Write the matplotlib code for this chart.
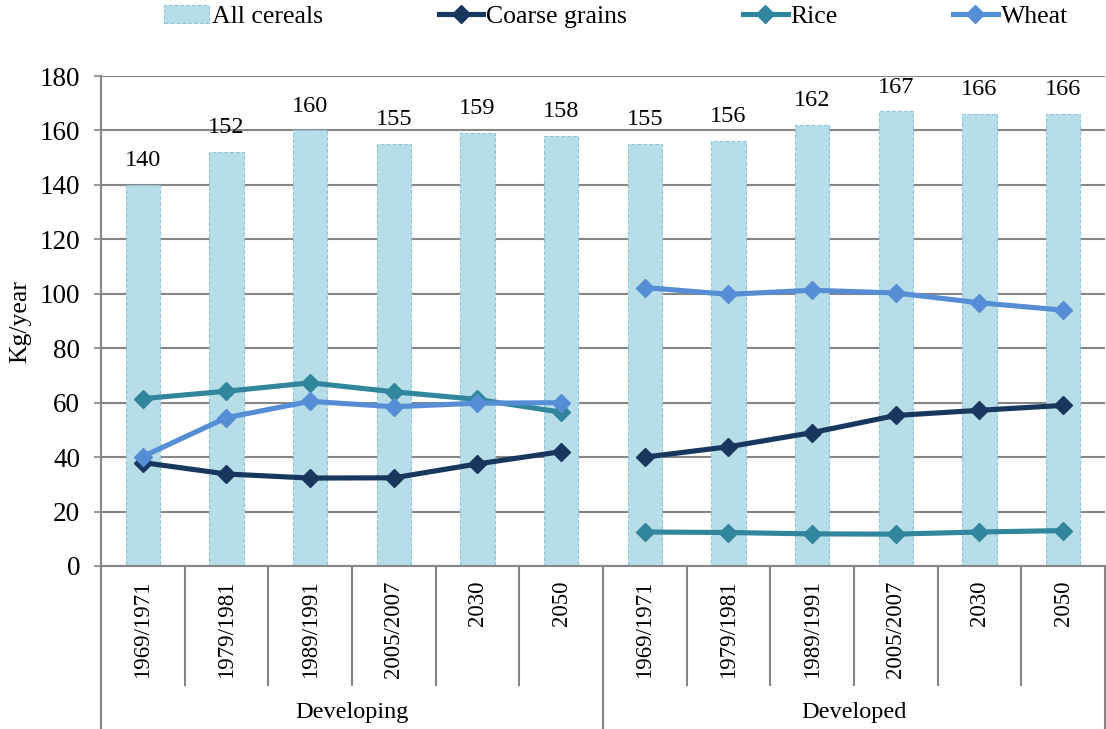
import matplotlib.pyplot as plt
import numpy as np

plt.rcParams['font.family'] = ['Liberation Serif', 'DejaVu Serif']

groups = ['Developing', 'Developed']
periods = ['1969/1971', '1979/1981', '1989/1991', '2005/2007', '2030', '2050']

all_cereals = [140, 152, 160, 155, 159, 158, 155, 156, 162, 167, 166, 166]
all_labels = ['140', '152', '160', '155', '159', '158', '155', '156', '162', '167', '166', '166']
coarse = [38, 33.8, 32.3, 32.4, 37.5, 42, 40, 43.8, 49, 55.3, 57.2, 59]
rice = [61.5, 64.2, 67.3, 64, 61.2, 56.5, 12.5, 12.3, 11.8, 11.7, 12.5, 13]
wheat = [40.2, 54.5, 60.5, 58.5, 59.8, 60, 102.3, 99.8, 101.3, 100.3, 96.7, 94]

fig = plt.figure(figsize=(11.06, 7.29), dpi=100)
ax = fig.add_axes([0.0913, 0.2236, 0.9077, 0.6721])

n = len(all_cereals)
x = np.arange(n)
bars = ax.bar(x, all_cereals, width=0.41, color='#B7DEE8', edgecolor='#8CC7DA',
              linestyle='--', linewidth=0.8, label='All cereals', zorder=2)
for xi, v, lab in zip(x, all_cereals, all_labels):
    ax.annotate(lab, (xi, v), xytext=(0, 10), textcoords='offset points',
                ha='center', va='bottom', fontsize=17.5)

series = [(coarse, '#17375E', 'Coarse grains'),
          (rice, '#31859C', 'Rice'),
          (wheat, '#558ED5', 'Wheat')]
handles = [bars]
for vals, col, name in series:
    for g in range(2):
        sl = slice(g * 6, g * 6 + 6)
        ln, = ax.plot(x[sl], vals[sl], color=col, lw=3.7, marker='D',
                      markersize=9.5, label=name, zorder=3)
        if g == 0:
            handles.append(ln)

ax.set_xlim(-0.5, n - 0.5)
ax.set_ylim(0, 180)
ax.set_yticks(range(0, 181, 20))
ax.tick_params(axis='y', labelsize=19.5, color='#868686', length=5, width=1.2,
               pad=10)
ax.set_xticks([])
ax.yaxis.grid(True, color='#868686', lw=1.5, zorder=0)
ax.set_axisbelow(True)
for s in ['top', 'right']:
    ax.spines[s].set_visible(False)
ax.spines['left'].set_color('#868686')
ax.spines['bottom'].set_color('#868686')
ax.spines['left'].set_linewidth(1.5)
ax.spines['bottom'].set_linewidth(1.5)
ax.set_ylabel('Kg/year', fontsize=18.5)
ax.yaxis.set_label_coords(-0.069, 0.5)

# category axis
tr = ax.get_xaxis_transform()
for i in range(n + 1):
    if i % 6 == 0:
        ax.plot([i - 0.5, i - 0.5], [0, -0.335], transform=tr, color='#868686',
                lw=1.5, clip_on=False)
    else:
        ax.plot([i - 0.5, i - 0.5], [0, -0.243], transform=tr, color='#868686',
                lw=1.5, clip_on=False)
for i in range(n):
    ax.text(i, -0.03, periods[i % 6], transform=tr, rotation=90, ha='center',
            va='top', fontsize=16.5)
for g, name in enumerate(groups):
    ax.text(g * 6 + 2.5, -0.3, name, transform=tr, ha='center', va='center',
            fontsize=17.5)

fig.legend(handles=handles, labels=['All cereals', 'Coarse grains', 'Rice', 'Wheat'],
           loc='upper center', bbox_to_anchor=(0.557, 1.025), ncol=4,
           frameon=False, fontsize=18.5, handlelength=1.75, columnspacing=4.5,
           handletextpad=0.1)

fig.savefig('out.png', dpi=100)
